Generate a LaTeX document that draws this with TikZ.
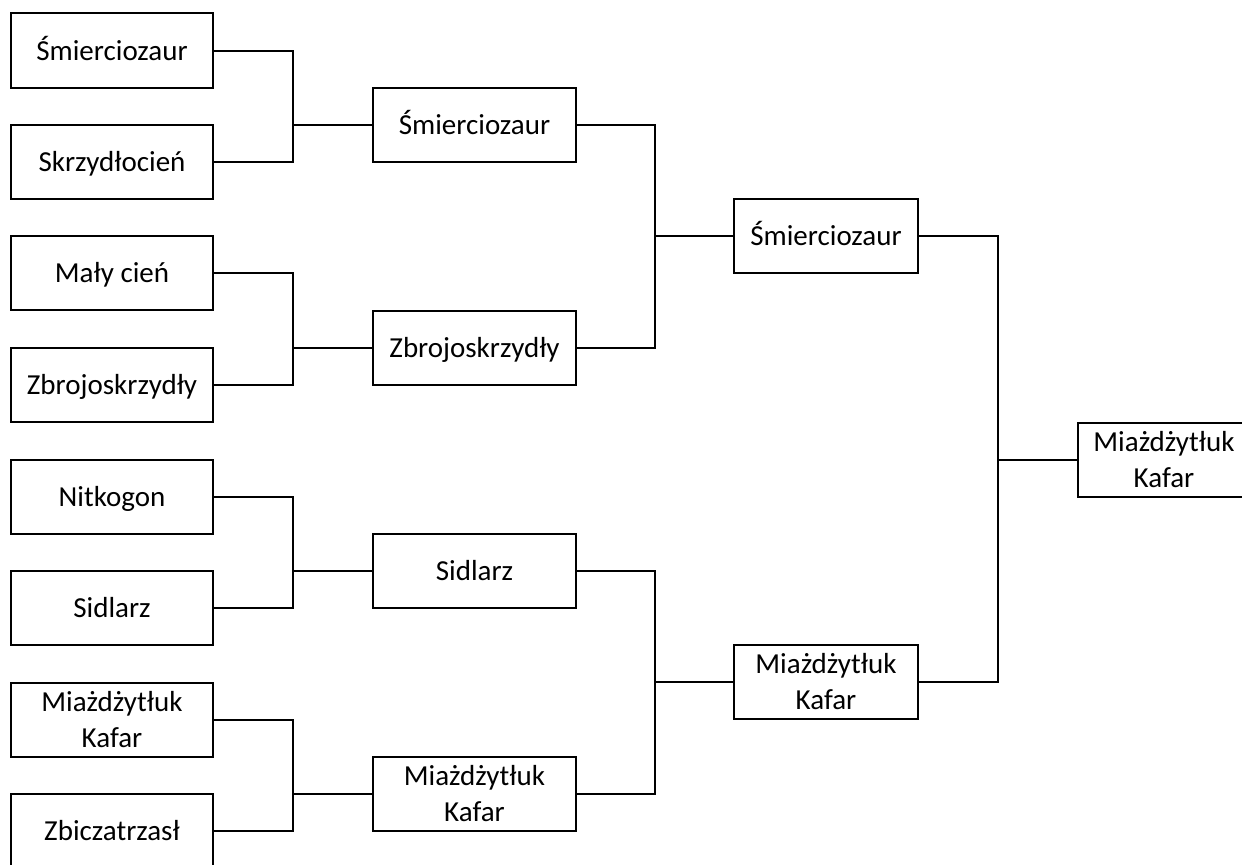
\documentclass[tikz,border=0pt]{standalone}
\usepackage{fontspec}
\setmainfont{Carlito}
\begin{document}
\begin{tikzpicture}[x=0.5pt,y=-0.5pt,
  box/.style={draw=black, line width=1pt, inner sep=0pt, minimum height=37.25pt,
    align=center, font=\fontsize{14.5pt}{18pt}\selectfont},
  oneline/.style={text height=12pt, text depth=2.5pt},
  colA/.style={box, minimum width=101pt},
  colB/.style={box, minimum width=101.5pt},
  colC/.style={box, minimum width=92pt},
  colD/.style={box, minimum width=100pt},
  txt/.style={inner sep=0pt, align=center, font=\fontsize{14.5pt}{18pt}\selectfont},
  conn/.style={draw=black, line width=1pt}]
\useasboundingbox (0,0) rectangle (1242,864);
\clip (0,0) rectangle (1242,864);
% round 1
\node[colA,oneline] (a1) at (112,50.5) {Śmierciozaur};
\node[colA,oneline] (a2) at (112,162) {Skrzydłocień};
\node[colA,oneline] (a3) at (112,273) {Mały cień};
\node[colA,oneline] (a4) at (112,385) {Zbrojoskrzydły};
\node[colA,oneline] (a5) at (112,497) {Nitkogon};
\node[colA,oneline] (a6) at (112,608) {Sidlarz};
\node[colA] (a7) at (112,720) {Miażdżytłuk\\Kafar};
\node[colA,oneline] (a8) at (112,831) {Zbiczatrzasł};
% round 2
\node[colB,oneline] (b1) at (474.5,125) {Śmierciozaur};
\node[colB,oneline] (b2) at (474.5,348) {Zbrojoskrzydły};
\node[colB,oneline] (b3) at (474.5,571) {Sidlarz};
\node[colB] (b4) at (474.5,794) {Miażdżytłuk\\Kafar};
% round 3
\node[colC,oneline] (c1) at (826,236) {Śmierciozaur};
\node[colC] (c2) at (826,682) {Miażdżytłuk\\Kafar};
% final (box runs past the right edge of the picture)
\node[colD] (d1) at (1178,460) {};
\node[txt] (d1t) at (1164,460) {Miażdżytłuk\\Kafar};
% junctions
\coordinate (j1) at (293,125);
\coordinate (j2) at (293,348);
\coordinate (j3) at (293,571);
\coordinate (j4) at (293,794);
\coordinate (k1) at (655,236);
\coordinate (k2) at (655,682);
\coordinate (m1) at (998,460);
% connectors
\draw[conn] (a1.east) -| (j1) |- (a2.east);
\draw[conn] (j1) -- (b1.west);
\draw[conn] (a3.east) -| (j2) |- (a4.east);
\draw[conn] (j2) -- (b2.west);
\draw[conn] (a5.east) -| (j3) |- (a6.east);
\draw[conn] (j3) -- (b3.west);
\draw[conn] (a7.east) -| (j4) |- (a8.east);
\draw[conn] (j4) -- (b4.west);
\draw[conn] (b1.east) -| (k1) |- (b2.east);
\draw[conn] (k1) -- (c1.west);
\draw[conn] (b3.east) -| (k2) |- (b4.east);
\draw[conn] (k2) -- (c2.west);
\draw[conn] (c1.east) -| (m1) |- (c2.east);
\draw[conn] (m1) -- (d1.west);
\end{tikzpicture}
\end{document}
